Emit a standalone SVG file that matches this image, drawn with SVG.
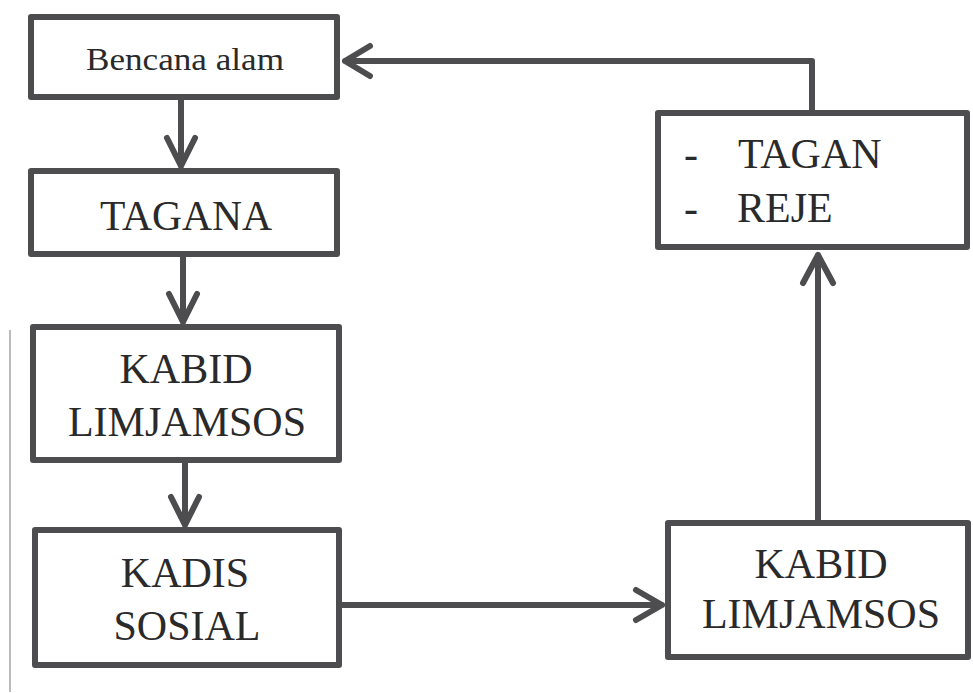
<svg xmlns="http://www.w3.org/2000/svg" width="973" height="693" viewBox="0 0 973 693" font-family="'Liberation Serif', 'DejaVu Serif', serif">
<style>
.box{fill:#fff;stroke:#4d4d4f;stroke-width:6;stroke-linejoin:round}
.ln{fill:none;stroke:#4d4d4f;stroke-width:6;stroke-linecap:round;stroke-linejoin:round}
text{font-family:'Liberation Serif','DejaVu Serif',serif;fill:#2a2a2a;text-anchor:middle}
.big{font-size:42px}
.sm{font-size:32px}
</style>
<rect width="973" height="693" fill="#fff"/>
<line x1="10" y1="330" x2="10" y2="692" stroke="#bbb" stroke-width="2"/>
<g id="connectors">
<path class="ln" d="M181,100 V166 M167,138 L181,166 L195,138"/>
<path class="ln" d="M183,257 V322 M169,294 L183,322 L197,294"/>
<path class="ln" d="M185,463 V525 M171,497 L185,525 L199,497"/>
<path class="ln" d="M342,605 H662 M636,590 L662,605 L636,620"/>
<path class="ln" d="M818,520 V255 M803,283 L818,255 L833,283"/>
<path class="ln" d="M812,110 V61 H345 M370,46 L345,61 L370,76"/>
</g>
<g id="bencana">
<rect class="box" x="31" y="17" width="306" height="80"/>
<text class="sm" x="185" y="70" textLength="198" lengthAdjust="spacingAndGlyphs">Bencana alam</text>
</g>
<g id="tagana">
<rect class="box" x="31" y="171" width="306" height="83"/>
<text class="big" x="186" y="230" textLength="172" lengthAdjust="spacingAndGlyphs">TAGANA</text>
</g>
<g id="kabid1">
<rect class="box" x="33" y="327" width="306" height="133"/>
<text class="big" x="186" y="383">KABID</text>
<text class="big" x="187" y="436">LIMJAMSOS</text>
</g>
<g id="kadis">
<rect class="box" x="35" y="530" width="304" height="135"/>
<text class="big" x="185" y="587">KADIS</text>
<text class="big" x="187" y="640">SOSIAL</text>
</g>
<g id="kabid2">
<rect class="box" x="668" y="523" width="300" height="134"/>
<text class="big" x="821" y="578">KABID</text>
<text class="big" x="821" y="628">LIMJAMSOS</text>
</g>
<g id="tagan-reje">
<rect class="box" x="658" y="113" width="309" height="134"/>
<text class="big" x="691" y="168">-</text>
<text class="big" x="738" y="168" style="text-anchor:start">TAGAN</text>
<text class="big" x="691" y="222">-</text>
<text class="big" x="737" y="222" style="text-anchor:start">REJE</text>
</g>
</svg>
